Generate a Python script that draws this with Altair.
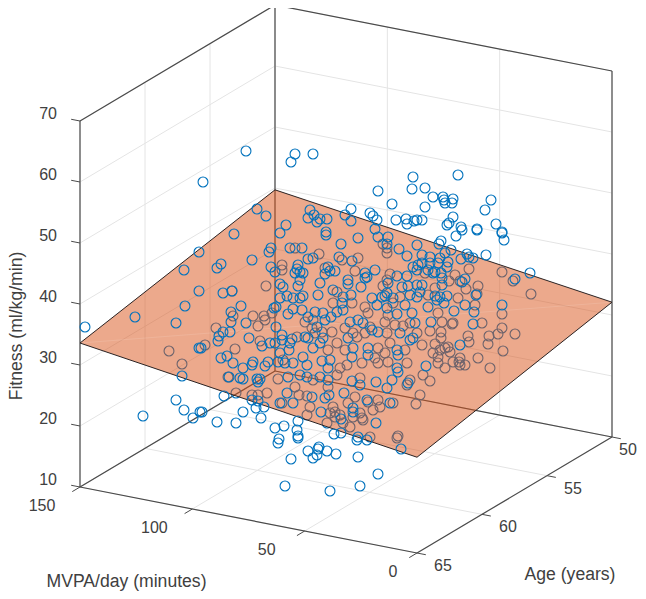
import altair as alt
import numpy as np
import pandas as pd

# Axis ticks (data units)
mvpa_ticks = [0, 50, 100, 150]
age_ticks = [50, 55, 60, 65]
fitness_ticks = [10, 20, 30, 40, 50, 60, 70]

# Regression plane at its four corners (mvpa, age, fitness)
plane_mvpa = [150, 150, 0, 0]
plane_age = [65, 50, 50, 65]
plane_fitness = [33.6, 39.7, 32.1, 25.7]

# Observations as read in the projected view (horizontal, vertical)
above_plane = [
(246,151),(203,182),(295,154),(291,162),(313,154),(413,177),(458,175),(378,191),(412,189),(425,188),
(433,197),(443,197),(444,200),(445,203),(453,199),(452,203),(392,204),(425,207),(491,200),(485,210),
(351,209),(370,213),(373,216),(377,220),(396,220),(406,219),(407,224),(414,221),(417,220),(422,220),
(453,217),(449,223),(447,225),(461,227),(477,229),(496,224),(502,232),(257,209),(266,216),(286,225),
(310,210),(314,215),(308,218),(317,222),(320,219),(327,219),(345,215),(351,221),(375,229),(280,233),
(234,234),(326,232),(85,327),(135,317),(143,416),(176,400),(184,410),(193,418),(200,412),(199,252),
(184,270),(199,291),(185,306),(176,323),(199,348),(182,376),(278,443),(298,438),(319,447),(318,449),
(308,451),(327,451),(336,454),(317,455),(313,458),(291,459),(358,457),(378,474),(285,486),(330,491),
(360,486),(401,449),(357,440),(367,440),(252,260),(221,264),(217,268),(271,248),(269,252),(290,248),
(302,248),(308,259),(271,267),(275,272),(280,284),(283,287),(298,265),(297,269),(295,273),(300,272),
(303,273),(300,280),(298,286),(232,291),(223,293),(287,296),(280,298),(293,298),(303,296),(300,298),
(326,235),(358,238),(341,244),(378,237),(388,237),(387,244),(399,249),(407,256),(417,245),(313,258),
(339,257),(352,261),(328,267),(330,271),(325,274),(335,271),(375,270),(365,273),(367,277),(413,267),
(418,265),(417,270),(348,280),(348,284),(320,283),(365,278),(397,276),(407,276),(388,283),(408,286),
(402,287),(417,285),(361,287),(333,290),(351,295),(343,297),(318,295),(387,293),(385,296),(382,297),
(372,298),(410,295),(417,297),(393,298),(456,236),(462,230),(477,230),(502,233),(504,240),(441,241),
(439,244),(451,250),(445,253),(467,254),(469,257),(486,255),(473,258),(461,259),(530,273),(422,255),
(430,257),(440,258),(448,262),(447,267),(438,263),(430,263),(422,263),(428,270),(435,272),(441,273),
(433,273),(515,279),(465,279),(462,282),(442,278),(442,285),(476,295),(422,285),(420,292),(435,296),
(440,297),(447,296),(241,306),(231,312),(231,322),(246,323),(276,307),(274,308),(288,314),(293,309),
(302,310),(308,317),(276,327),(223,332),(230,332),(219,336),(218,341),(201,348),(249,338),(262,346),
(270,343),(275,343),(282,335),(282,340),(292,339),(290,343),(289,350),(280,353),(305,337),(308,338),
(227,356),(221,358),(233,363),(253,362),(252,365),(243,368),(268,362),(278,362),(285,363),(293,363),
(303,357),(265,366),(307,365),(315,312),(323,313),(331,317),(342,303),(343,310),(337,312),(377,305),
(387,308),(397,314),(412,313),(405,305),(350,322),(358,320),(363,323),(372,330),(378,332),(348,338),
(317,327),(325,320),(323,338),(320,343),(313,348),(400,333),(410,340),(353,348),(352,357),(368,348),
(368,355),(397,350),(398,355),(330,360),(322,361),(328,368),(397,368),(413,338),(415,323),(502,305),
(454,311),(474,312),(465,305),(428,307),(444,303),(437,300),(431,322),(473,324),(460,345),(426,366),
(229,377),(240,378),(243,379),(257,379),(260,379),(258,382),(288,377),(300,375),(307,377),(287,393),
(280,403),(293,403),(258,401),(252,400),(224,396),(202,412),(243,412),(217,422),(236,423),(256,408),
(264,407),(261,418),(298,421),(275,428),(284,426),(297,430),(298,436),(279,439),(320,377),(328,380),
(352,381),(360,385),(376,382),(392,380),(387,388),(398,372),(408,383),(344,393),(325,398),(329,395),
(367,400),(353,408),(353,412),(321,412),(341,419),(376,423),(390,403),(312,397),(334,434),(341,433),
(358,437),
]
below_plane = [
(169,351),(182,364),(397,438),(295,248),(282,265),(282,270),(266,286),(232,291),(383,244),(387,248),
(387,253),(319,254),(342,260),(358,258),(325,268),(355,271),(390,274),(387,280),(383,286),(337,292),
(400,297),(425,273),(469,269),(502,272),(513,281),(455,275),(449,281),(460,281),(478,286),(466,289),
(477,294),(531,294),(435,288),(428,295),(458,298),(233,316),(253,316),(264,316),(265,320),(258,326),
(272,313),(305,322),(216,328),(205,345),(260,341),(297,337),(235,349),(283,360),(337,343),(328,350),
(345,350),(378,348),(390,343),(387,333),(405,350),(375,358),(385,353),(378,363),(388,362),(407,363),
(362,363),(347,365),(340,368),(315,333),(322,332),(332,332),(353,333),(357,337),(365,333),(368,313),
(365,307),(385,322),(395,325),(403,326),(345,328),(312,328),(333,303),(352,303),(393,303),(370,327),
(417,333),(410,323),(388,315),(313,320),(502,314),(482,323),(502,328),(498,334),(489,336),(515,334),
(488,344),(468,336),(469,342),(503,351),(478,358),(441,332),(441,338),(453,323),(452,324),(442,322),
(438,313),(475,305),(430,331),(435,344),(440,350),(448,347),(445,348),(450,352),(433,353),(438,357),
(438,363),(453,362),(460,358),(459,362),(460,365),(465,365),(422,345),(490,368),(445,368),(228,377),
(236,393),(278,379),(267,393),(258,395),(252,395),(295,387),(299,395),(307,396),(282,403),(307,415),
(313,380),(337,375),(360,378),(328,387),(355,397),(368,402),(378,400),(393,403),(333,407),(335,412),
(330,413),(340,415),(335,417),(360,413),(362,418),(353,417),(348,403),(373,410),(380,407),(398,436),
(370,437),(410,380),(407,385),(310,407),(350,427),(363,420),(343,423),(327,423),(423,375),(430,381),
(420,395),(416,404),
]

def view(m, a, f):
    """Orthographic projection of (mvpa, age, fitness) into the view plane."""
    h = 417 - (337 / 150) * m + (195 / 15) * (65 - a)
    v = 553 - (66 / 150) * m - (116 / 15) * (65 - a) - 6.1 * (f - 10)
    return h, v

def seg(p, q):
    a, b = view(*p), view(*q)
    return {"h": a[0], "v": a[1], "h2": b[0], "v2": b[1]}

grid = []
for f in fitness_ticks:
    grid += [seg((150, 65, f), (150, 50, f)), seg((150, 50, f), (0, 50, f))]
for m in mvpa_ticks:
    grid += [seg((m, 65, 10), (m, 50, 10)), seg((m, 50, 10), (m, 50, 70))]
for a in age_ticks:
    grid += [seg((0, a, 10), (150, a, 10)), seg((150, a, 10), (150, a, 70))]

box = [
    seg((150, 65, 10), (150, 65, 70)), seg((150, 65, 70), (150, 50, 70)),
    seg((150, 50, 70), (0, 50, 70)), seg((0, 50, 70), (0, 50, 10)),
    seg((150, 50, 10), (150, 50, 70)), seg((150, 65, 10), (150, 50, 10)),
    seg((150, 50, 10), (0, 50, 10)), seg((150, 65, 10), (0, 65, 10)),
    seg((0, 65, 10), (0, 50, 10)),
]
TL = 9.0
ticks = []
for f in fitness_ticks:
    h, v = view(150, 65, f)
    ticks.append({"h": h, "v": v, "h2": h - TL * 0.981, "v2": v - TL * 0.192})
for m in mvpa_ticks:
    h, v = view(m, 65, 10)
    ticks.append({"h": h, "v": v, "h2": h - TL * 0.859, "v2": v + TL * 0.511})
for a in age_ticks:
    h, v = view(0, a, 10)
    ticks.append({"h": h, "v": v, "h2": h + TL * 0.981, "v2": v + TL * 0.192})

labels = []
for f in fitness_ticks:
    h, v = view(150, 65, f)
    labels.append({"h": h - 23, "v": v - 7, "t": str(f), "al": "right"})
for m in mvpa_ticks:
    h, v = view(m, 65, 10)
    labels.append({"h": h - (24 if m == 0 else 38), "v": v + 19, "t": str(m), "al": "center"})
for a in age_ticks:
    h, v = view(0, a, 10)
    # the age-50 label sits at the right edge of the page, so it is pulled in to stay whole
    labels.append({"h": min(h + 26, 628), "v": v + 13, "t": str(a), "al": "center"})

corners = [view(m, a, f) for m, a, f in zip(plane_mvpa, plane_age, plane_fitness)]
L, T, R, B = corners[0], corners[1], corners[2], corners[3]
knots = sorted([L[0], T[0], B[0], R[0]])
upper = np.interp(knots, [L[0], T[0], R[0]], [L[1], T[1], R[1]])
lower = np.interp(knots, [L[0], B[0], R[0]], [L[1], B[1], R[1]])
plane_df = pd.DataFrame({"h": knots, "v": upper, "v2": lower})
edges = [
    {"h": L[0], "v": L[1], "h2": T[0], "v2": T[1]},
    {"h": T[0], "v": T[1], "h2": R[0], "v2": R[1]},
    {"h": R[0], "v": R[1], "h2": B[0], "v2": B[1]},
    {"h": B[0], "v": B[1], "h2": L[0], "v2": L[1]},
]
seam = [{"h": L[0], "v": L[1], "h2": R[0], "v2": R[1]}]

W, H = 630, 583
X = alt.X("h:Q", scale=alt.Scale(domain=[8, 8 + W]), axis=None)
Y = alt.Y("v:Q", scale=alt.Scale(domain=[8 + H, 8]), axis=None)

def rules(rows, color, width, opacity=1.0):
    return alt.Chart(pd.DataFrame(rows)).mark_rule(
        color=color, strokeWidth=width, opacity=opacity
    ).encode(x=X, y=Y, x2="h2:Q", y2="v2:Q")

def dots(rows):
    df = pd.DataFrame(rows, columns=["h", "v"])
    return alt.Chart(df).mark_point(
        shape="circle", filled=False, size=98, color="#0072BD", strokeWidth=1.1, opacity=1
    ).encode(x=X, y=Y)

plane = alt.Chart(plane_df).mark_area(
    color="#D95319", opacity=0.5, interpolate="linear"
).encode(x=X, y=Y, y2="v2:Q")

tick_text = alt.Chart(pd.DataFrame([l for l in labels if l["al"] == "right"])).mark_text(
    align="right", baseline="middle", font="Liberation Sans", fontSize=16, color="#404040"
).encode(x=X, y=Y, text="t:N")
tick_text2 = alt.Chart(pd.DataFrame([l for l in labels if l["al"] == "center"])).mark_text(
    align="center", baseline="middle", font="Liberation Sans", fontSize=16, color="#404040"
).encode(x=X, y=Y, text="t:N")

axis_titles = [
    {"h": 126.5, "v": 582, "t": "MVPA/day (minutes)"},
    {"h": 570, "v": 575, "t": "Age (years)"},
]
titles = alt.Chart(pd.DataFrame(axis_titles)).mark_text(
    align="center", baseline="middle", font="Liberation Sans", fontSize=17.6, color="#404040"
).encode(x=X, y=Y, text="t:N")
fit_title = alt.Chart(pd.DataFrame([{"h": 17, "v": 326, "t": "Fitness (ml/kg/min)"}])).mark_text(
    align="center", baseline="middle", font="Liberation Sans", fontSize=17.6, color="#404040", angle=270
).encode(x=X, y=Y, text="t:N")

chart = alt.layer(
    rules(grid, "#E4E4E4", 1),
    rules(box, "#4A4A4A", 1.2),
    rules(ticks, "#4A4A4A", 1),
    dots(below_plane),
    plane,
    rules(seam, "#FFFFFF", 1, 0.12),
    rules(edges, "#2A2222", 1),
    dots(above_plane),
    tick_text, tick_text2, titles, fit_title,
).properties(
    width=W, height=H, padding=0, background="white",
    autosize=alt.AutoSizeParams(type="none"),
).configure_view(stroke=None)

chart.save("out.html", embed_options={"renderer": "svg", "actions": False})
